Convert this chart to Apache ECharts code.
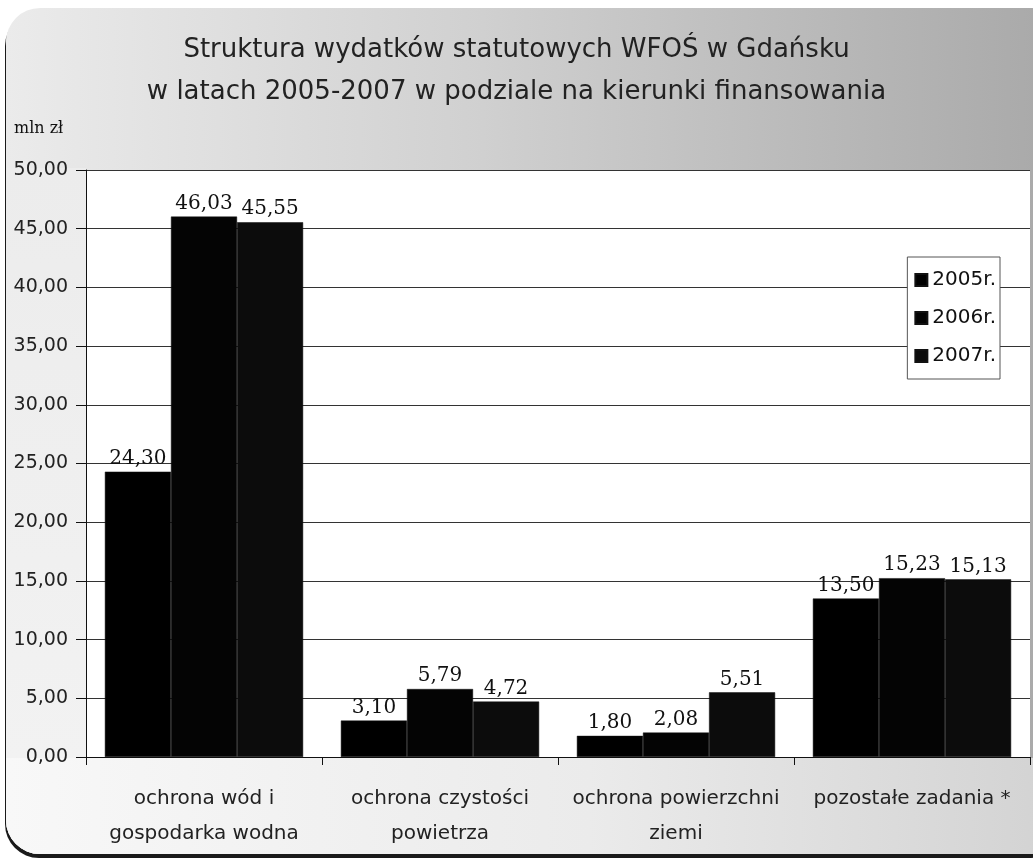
<!DOCTYPE html>
<html>
<head>
<meta charset="utf-8">
<script src="https://cdn.jsdelivr.net/npm/echarts@6/dist/echarts.min.js"></script>
<style>
  html, body { margin: 0; padding: 0; background: #fff; overflow: hidden; }
  #frame {
    position: absolute; left: 6px; top: 8px; width: 1060px; height: 846px;
    border-radius: 34px; overflow: hidden;
    background: linear-gradient(to right, #ebebeb 0%, #d0d0d0 45%, #a8a8a8 100%);
    box-shadow: -1px 4px 0 #1a1a1a;
  }
  #bottom {
    position: absolute; left: 0; right: 0; top: 750px; bottom: 0;
    background: linear-gradient(to right, #f8f8f8 0%, #ebebeb 55%, #d2d2d2 100%);
  }
  #leftcol {
    position: absolute; left: 0; width: 80px; top: 160px; bottom: 96px;
    background: linear-gradient(to bottom, #ececec, #f2f2f2);
  }
  #chart { position: absolute; left: 0; top: 0; width: 1033px; height: 859px; }
</style>
</head>
<body>
<div id="frame"><div id="leftcol"></div><div id="bottom"></div></div>
<div id="chart"></div>
<script>
  // kategorie i wartości (mln zł)
  const categories = [
    'ochrona wód i\ngospodarka wodna',
    'ochrona czystości\npowietrza',
    'ochrona powierzchni\nziemi',
    'pozostałe zadania *'
  ];
  const years = ['2005r.', '2006r.', '2007r.'];
  const v2005 = [24.30, 3.10, 1.80, 13.50];
  const v2006 = [46.03, 5.79, 2.08, 15.23];
  const v2007 = [45.55, 4.72, 5.51, 15.13];
  const colors = ['#000000', '#040404', '#0c0c0c'];

  const fmt = v => v.toFixed(2).replace('.', ',');

  const chart = echarts.init(document.getElementById('chart'));

  const makeSeries = (name, data, color) => ({
    name: name,
    type: 'bar',
    data: data,
    barGap: '0%',
    barCategoryGap: '16%',
    itemStyle: { color: color, borderColor: '#111', borderWidth: 0.5 },
    label: {
      show: true,
      position: 'top',
      distance: 3,
      fontFamily: 'DejaVu Serif',
      fontSize: 20,
      color: '#111',
      formatter: p => fmt(p.value)
    }
  });

  const option = {
    backgroundColor: 'transparent',
    animation: false,
    title: {
      text: 'Struktura wydatków statutowych WFOŚ w Gdańsku\nw latach 2005-2007 w podziale na kierunki finansowania',
      left: 'center',
      top: 24,
      textStyle: {
        fontFamily: 'DejaVu Sans',
        fontWeight: 'normal',
        fontSize: 26,
        lineHeight: 42,
        color: '#222'
      }
    },
    graphic: [{
      type: 'text',
      left: 14,
      top: 121,
      style: { text: 'mln zł', font: '16px "DejaVu Serif"', fill: '#111' }
    }],
    legend: {
      orient: 'vertical',
      right: 33,
      top: 257,
      data: years,
      itemWidth: 12,
      itemHeight: 12,
      itemGap: 16,
      padding: [12, 4, 12, 7],
      backgroundColor: '#fff',
      borderColor: '#555',
      borderWidth: 1,
      borderRadius: 0,
      icon: 'rect',
      textStyle: { fontFamily: 'DejaVu Sans', fontSize: 20, lineHeight: 22, color: '#111', padding: [0, 0, 0, 0] }
    },
    grid: { left: 86, right: 3, top: 170, bottom: 102, backgroundColor: '#fff', show: true, borderWidth: 0 },
    xAxis: {
      type: 'category',
      data: categories,
      axisLine: { lineStyle: { color: '#111', width: 1 } },
      axisTick: { show: true, alignWithLabel: false, length: 8, lineStyle: { color: '#111' } },
      axisLabel: {
        interval: 0,
        margin: 24,
        fontFamily: 'DejaVu Sans',
        fontSize: 20,
        lineHeight: 35,
        color: '#222'
      }
    },
    yAxis: {
      type: 'value',
      min: 0,
      max: 50,
      interval: 5,
      axisLine: { show: true, lineStyle: { color: '#111' } },
      axisTick: { show: true, length: 10, lineStyle: { color: '#111' } },
      axisLabel: {
        margin: 18,
        fontFamily: 'DejaVu Sans',
        fontSize: 19,
        color: '#222',
        formatter: v => fmt(v)
      },
      splitLine: { lineStyle: { color: '#333', width: 1 } }
    },
    series: [
      makeSeries(years[0], v2005, colors[0]),
      makeSeries(years[1], v2006, colors[1]),
      makeSeries(years[2], v2007, colors[2])
    ]
  };

  chart.setOption(option);
</script>
</body>
</html>
